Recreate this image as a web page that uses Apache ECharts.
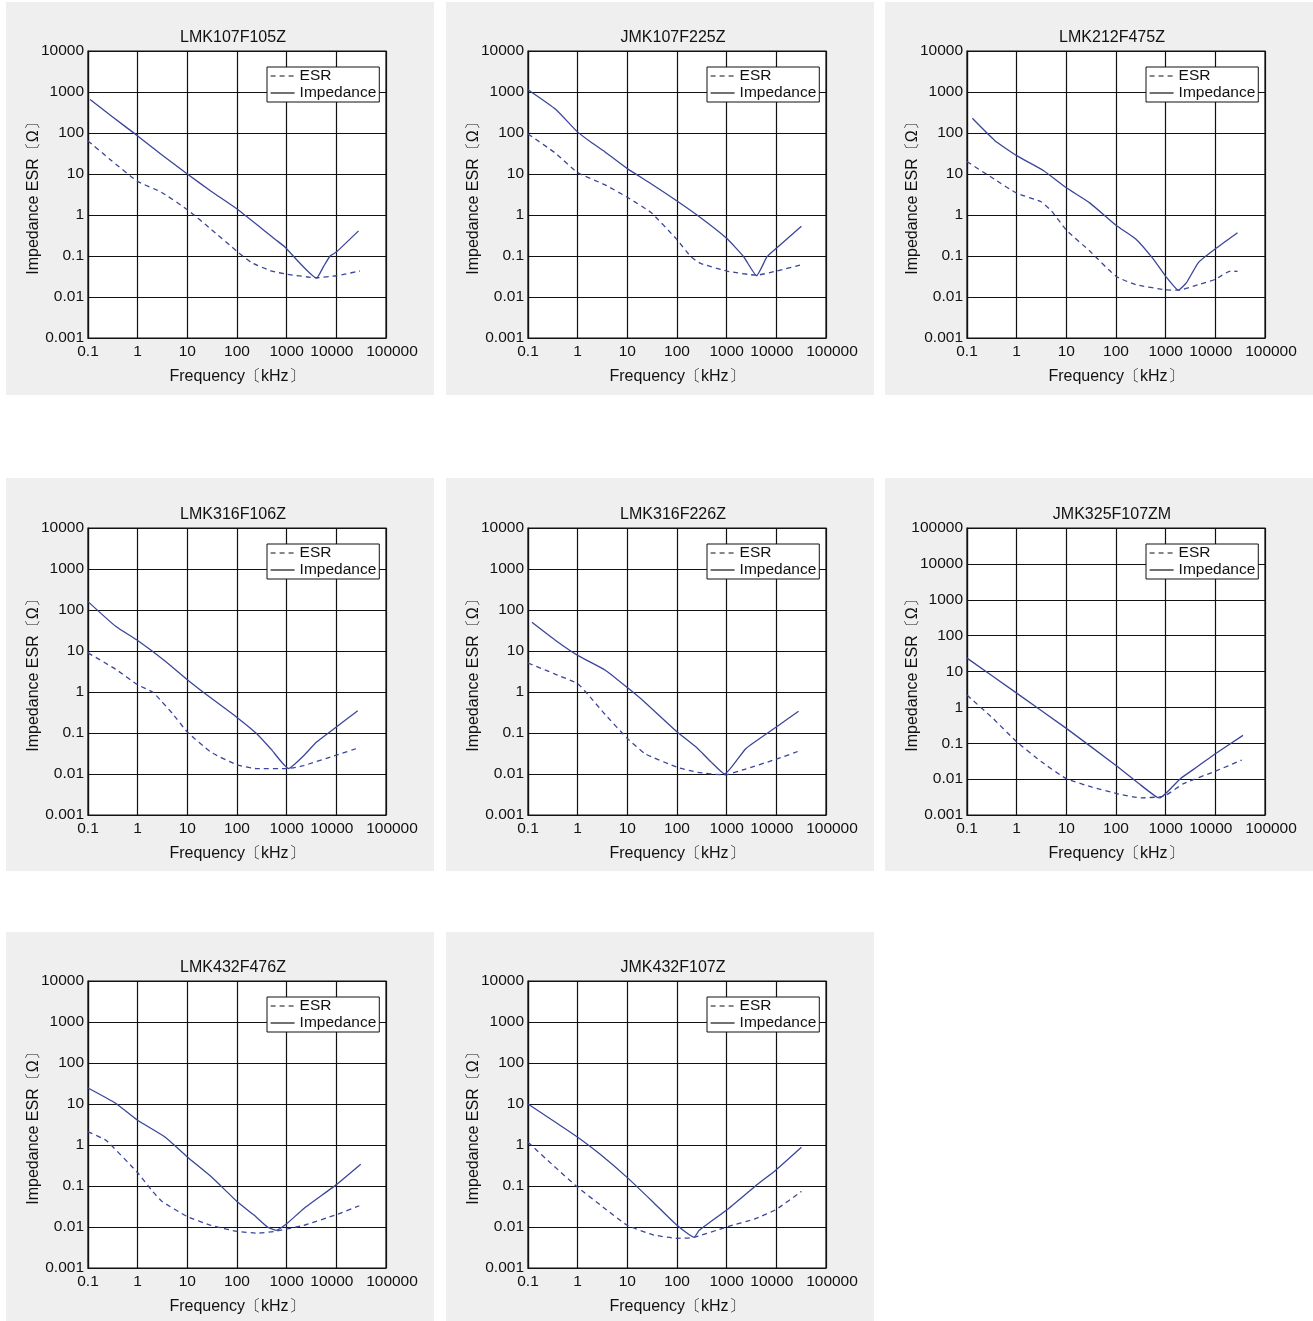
<!DOCTYPE html>
<html><head><meta charset="utf-8">
<script src="https://cdn.jsdelivr.net/npm/echarts@6/dist/echarts.min.js"></script>
<style>html,body{margin:0;padding:0;background:#fff}#c{width:1313px;height:1321px}</style>
</head><body><div id="c"></div>
<script>
// ---- data ----
const titles = ['LMK107F105Z','JMK107F225Z','LMK212F475Z','LMK316F106Z','LMK316F226Z','JMK325F107ZM','LMK432F476Z','JMK432F107Z'];
const yMaxes = [10000,10000,10000,10000,10000,100000,10000,10000];
const xTickLabels = ['0.1','1','10','100','1000','10000','100000'];
const yTickLabels = ['0.001','0.01','0.1','1','10','100','1000','10000','100000'];
const seriesNames = ['ESR','Impedance'];

// [frequency kHz, ohm]
const zLMK107F105Z = [[0.11,660],[0.3,255],[1,85],[3,30],[10,10],[30,3.8],[100,1.4],[300,0.49],[600,0.25],[900,0.17],[4000,0.029],[5500,0.055],[7500,0.1],[10000,0.125],[28000,0.41]];
const eLMK107F105Z = [[0.1,64],[0.3,21],[1,6.6],[3,3.6],[10,1.35],[30,0.45],[100,0.13],[200,0.068],[500,0.043],[1000,0.036],[4000,0.0295],[10000,0.033],[30000,0.043]];

const zJMK107F225Z = [[0.1,1140],[0.36,380],[1,105],[2,56],[3.5,35],[10,13.5],[30,5.8],[100,2.2],[300,0.86],[1000,0.27],[2200,0.096],[4000,0.033],[6500,0.096],[10000,0.155],[32000,0.53]];
const eJMK107F225Z = [[0.1,95],[0.36,32],[1,10.8],[3.5,5.5],[10,2.7],[30,1.15],[100,0.25],[190,0.096],[300,0.066],[1000,0.043],[4000,0.034],[10000,0.043],[30000,0.06]];

const zLMK212F475Z = [[0.128,228],[0.36,66],[1,28],[3.5,12],[10,4.6],[30,1.95],[100,0.56],[250,0.26],[560,0.085],[1000,0.032],[1800,0.0147],[2600,0.022],[4600,0.07],[10000,0.15],[28000,0.37]];
const eLMK212F475Z = [[0.1,20],[0.36,7.4],[1,3.4],[3.1,2.1],[5,1.26],[10,0.43],[30,0.13],[100,0.032],[250,0.02],[1000,0.015],[1800,0.0147],[4600,0.02],[10000,0.027],[20000,0.043],[28000,0.042]];

const zLMK316F106Z = [[0.1,160],[0.36,40],[1,18],[3.5,5.8],[10,2],[30,0.71],[100,0.24],[250,0.096],[480,0.041],[1090,0.0136],[2200,0.028],[4000,0.06],[10000,0.14],[27000,0.35]];
const eLMK316F106Z = [[0.1,9],[0.36,3.6],[1,1.5],[2,1.0],[3,0.6],[5,0.3],[10,0.106],[30,0.034],[100,0.0167],[250,0.0135],[1000,0.0135],[2200,0.016],[10000,0.029],[26000,0.042]];

const zLMK316F226Z = [[0.12,50],[0.36,18],[1,7.8],[3.6,3.4],[10,1.28],[23,0.55],[100,0.107],[260,0.042],[490,0.0195],[910,0.01],[2450,0.042],[10000,0.14],[28000,0.34]];
const eLMK316F226Z = [[0.1,5.1],[0.36,2.7],[1,1.6],[1.6,0.88],[3.6,0.28],[10,0.074],[23,0.031],[100,0.0147],[260,0.011],[910,0.0095],[2300,0.013],[10000,0.023],[28000,0.036]];

const zJMK325F107ZM = [[0.1,23.6],[1,2.5],[10,0.26],[100,0.024],[320,0.0067],[650,0.0032],[760,0.003],[1170,0.0049],[2000,0.0104],[4300,0.022],[10000,0.051],[36000,0.166]];
const eJMK325F107ZM = [[0.1,2.2],[0.34,0.48],[1,0.11],[3.2,0.03],[10,0.0103],[33,0.006],[100,0.004],[320,0.003],[760,0.0032],[1000,0.0035],[2300,0.0075],[10000,0.0166],[34000,0.034]];

const zLMK432F476Z = [[0.1,24.5],[0.36,10.4],[1,4],[3.6,1.55],[10,0.51],[30,0.17],[100,0.042],[220,0.0195],[410,0.01],[610,0.0083],[1000,0.012],[2200,0.028],[10000,0.108],[31000,0.34]];
const eLMK432F476Z = [[0.1,2.1],[0.23,1.3],[1,0.21],[2,0.074],[3.1,0.042],[10,0.018],[30,0.011],[100,0.0078],[260,0.0071],[610,0.0079],[2200,0.011],[10000,0.02],[29000,0.033]];

const zJMK432F107Z = [[0.1,10],[1,1.55],[2.8,0.6],[10,0.16],[32,0.042],[100,0.011],[220,0.0056],[280,0.0083],[1000,0.026],[3800,0.1],[10000,0.25],[32000,0.88]];
const eJMK432F107Z = [[0.1,1.17],[0.33,0.31],[1,0.093],[3.2,0.031],[10,0.011],[32,0.0065],[100,0.0053],[220,0.0056],[1000,0.01],[3800,0.016],[10000,0.027],[32000,0.074]];

const impedanceSets = [zLMK107F105Z,zJMK107F225Z,zLMK212F475Z,zLMK316F106Z,zLMK316F226Z,zJMK325F107ZM,zLMK432F476Z,zJMK432F107Z];
const esrSets = [eLMK107F105Z,eJMK107F225Z,eLMK212F475Z,eLMK316F106Z,eLMK316F226Z,eJMK325F107ZM,eLMK432F476Z,eJMK432F107Z];

// ---- layout ----
const FONT = '"Liberation Sans", Arial, Helvetica, sans-serif';
const colPanelX = [6, 446, 885];
const rowPanelY = [2, 478, 932];
const rowPanelH = [393, 393, 389];
const plotLeft = [88, 528, 967];
const plotTop = [51, 528, 981];
const PW = 298, PH = 287;
const LINE = '#3b4699';
const TXT = '#111';
const LBL = {fontSize: 15.5, color: TXT, fontFamily: FONT};

const chart = echarts.init(document.getElementById('c'), null, {renderer: 'canvas'});
const grid = [], xAxis = [], yAxis = [], series = [], title = [], legend = [], graphic = [];

titles.forEach((t, i) => {
  const c = i % 3, r = Math.floor(i / 3);
  graphic.push({type: 'rect', z: -10, silent: true,
    shape: {x: colPanelX[c], y: rowPanelY[r], width: 428, height: rowPanelH[r]},
    style: {fill: '#efefef'}});
  const L = plotLeft[c], T = plotTop[r];
  grid.push({left: L, top: T, width: PW, height: PH, show: true, backgroundColor: '#fff',
    borderColor: TXT, borderWidth: 1.2, containLabel: false});
  xAxis.push({type: 'log', logBase: 10, gridIndex: i, min: 0.1, max: 100000,
    name: 'Frequency〔kHz〕', nameLocation: 'middle', nameGap: 31, nameMoveOverlap: false,
    nameTextStyle: {fontSize: 16, color: TXT, fontFamily: FONT},
    axisLine: {lineStyle: {color: TXT, width: 1.2}}, axisTick: {show: false},
    axisLabel: Object.assign({}, LBL, {margin: 6,
      formatter: v => {
        const k = Math.round(Math.log10(v)) + 1;
        const tag = k === 5 ? 'l' : (k === 6 ? 'rt' : 'n');
        return '{' + tag + '|' + xTickLabels[k] + '}';
      },
      rich: {
        n: Object.assign({}, LBL),
        l: Object.assign({}, LBL, {padding: [0, 9, 0, 0]}),
        rt: Object.assign({}, LBL, {padding: [0, 0, 0, 12]})
      }}),
    splitLine: {show: true, lineStyle: {color: TXT, width: 1.2}},
    minorTick: {show: false}, minorSplitLine: {show: false}});
  yAxis.push({type: 'log', logBase: 10, gridIndex: i, min: 0.001, max: yMaxes[i],
    name: 'Impedance ESR〔Ω〕', nameLocation: 'middle', nameGap: 46, nameMoveOverlap: false,
    nameTextStyle: {fontSize: 16, color: TXT, fontFamily: FONT},
    axisLine: {lineStyle: {color: TXT, width: 1.2}}, axisTick: {show: false},
    axisLabel: Object.assign({}, LBL, {margin: 4,
      formatter: v => yTickLabels[Math.round(Math.log10(v)) + 3]}),
    splitLine: {show: true, lineStyle: {color: TXT, width: 1.2}}});
  series.push({name: seriesNames[0], type: 'line', xAxisIndex: i, yAxisIndex: i,
    data: esrSets[i], symbol: 'none', smooth: 0.15, z: 3,
    lineStyle: {color: LINE, width: 1.3, type: [5, 4]}, itemStyle: {color: LINE}});
  series.push({name: seriesNames[1], type: 'line', xAxisIndex: i, yAxisIndex: i,
    data: impedanceSets[i], symbol: 'none', smooth: 0.15, z: 4,
    lineStyle: {color: LINE, width: 1.3}, itemStyle: {color: LINE}});
  title.push({text: t, left: L + PW / 2 - 9, top: T - 26, textAlign: 'center',
    textStyle: {fontSize: 16, fontWeight: 'normal', color: TXT, fontFamily: FONT}});
  legend.push({orient: 'vertical', left: L + 179, top: T + 16,
    data: seriesNames.slice(),
    padding: [1, 3, 1, 3], itemGap: 1, itemWidth: 24, itemHeight: 15,
    backgroundColor: '#fff', borderColor: TXT, borderWidth: 1, borderRadius: 0,
    selectedMode: false,
    lineStyle: {color: TXT, width: 1.2},
    itemStyle: {color: 'rgba(0,0,0,0)', opacity: 0, borderWidth: 0},
    textStyle: {fontSize: 15.5, color: TXT, fontFamily: FONT}});
});

chart.setOption({animation: false, backgroundColor: '#fff',
  graphic, grid, xAxis, yAxis, series, title, legend});
</script></body></html>
